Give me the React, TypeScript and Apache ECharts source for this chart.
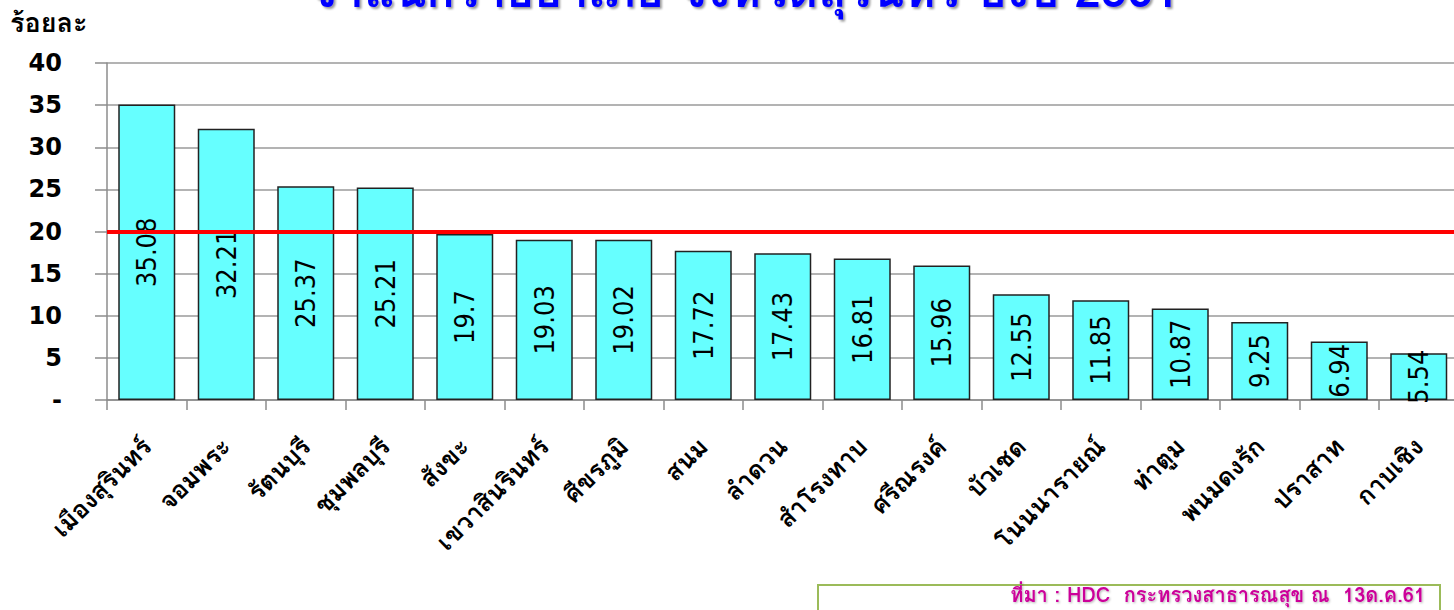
import React, { useEffect, useRef } from "react";
import * as echarts from "echarts";

const categories = [
  "เมืองสุรินทร์",
  "จอมพระ",
  "รัตนบุรี",
  "ชุมพลบุรี",
  "สังขะ",
  "เขวาสินรินทร์",
  "ศีขรภูมิ",
  "สนม",
  "ลำดวน",
  "สำโรงทาบ",
  "ศรีณรงค์",
  "บัวเชด",
  "โนนนารายณ์",
  "ท่าตูม",
  "พนมดงรัก",
  "ปราสาท",
  "กาบเชิง",
];
const values = [35.08, 32.21, 25.37, 25.21, 19.7, 19.03, 19.02, 17.72, 17.43, 16.81, 15.96, 12.55, 11.85, 10.87, 9.25, 6.94, 5.54];
const targetValue = 20;
const yAxisName = "ร้อยละ";
const titleText = "จำแนกรายอำเภอ จังหวัดสุรินทร์ ปีงบ 2561";
const sourceText = "ที่มา : HDC  กระทรวงสาธารณสุข ณ  13ด.ค.61";

const THAI_FONT = "Loma, Garuda, Waree, 'Noto Sans Thai', Tahoma, 'DejaVu Sans', sans-serif";

export default function App() {
  const ref = useRef<HTMLDivElement>(null);
  useEffect(() => {
    if (!ref.current) return;
    const chart = echarts.init(ref.current, undefined, { renderer: "svg" });
    chart.setOption({
      animation: false,
      backgroundColor: "#ffffff",
      grid: { left: 107, right: 11.5, top: 63, bottom: 210, containLabel: false },
      graphic: [
        {
          type: "text",
          left: 310,
          top: -33,
          style: {
            text: titleText,
            fill: "#0000ff",
            font: "bold 47px " + THAI_FONT,
            textShadowColor: "rgba(0,0,0,0.4)",
            textShadowBlur: 2,
            textShadowOffsetX: 2,
            textShadowOffsetY: 2,
          },
        },
        {
          type: "text",
          left: 10,
          top: 9,
          style: { text: yAxisName, fill: "#000", font: "bold 27px " + THAI_FONT },
        },
        {
          type: "rect",
          shape: { x: 818, y: 585, width: 622, height: 40 },
          style: { fill: "#fff", stroke: "#9bbb59", lineWidth: 2 },
        },
        {
          type: "text",
          right: 1470 - 1425,
          top: 585,
          style: {
            text: sourceText,
            fill: "#cc0099",
            font: "bold 20px " + THAI_FONT,
            textShadowColor: "rgba(0,0,0,0.3)",
            textShadowBlur: 2,
            textShadowOffsetX: 1,
            textShadowOffsetY: 1,
          },
        },
      ],
      xAxis: {
        type: "category",
        data: categories,
        axisLine: { show: true, lineStyle: { color: "#8c8c8c", width: 1.5 } },
        axisTick: { show: true, length: 10, lineStyle: { color: "#8c8c8c", width: 1.5 } },
        axisLabel: {
          rotate: 45,
          margin: 42,
          interval: 0,
          color: "#000",
          fontWeight: "bold",
          fontSize: 25,
          fontFamily: THAI_FONT,
        },
      },
      yAxis: {
        type: "value",
        min: 0,
        max: 40,
        interval: 5,
        axisLine: { show: true, lineStyle: { color: "#8c8c8c", width: 1.5 } },
        axisTick: { show: true, length: 12, lineStyle: { color: "#8c8c8c", width: 1.5 } },
        splitLine: { show: true, lineStyle: { color: "#9a9a9a", width: 1.5 } },
        axisLabel: {
          margin: 45,
          color: "#000",
          fontWeight: "bold",
          fontSize: 24,
          fontFamily: "Verdana, 'DejaVu Sans', sans-serif",
          formatter: (v: number) => (v === 0 ? "-" : String(v)),
        },
      },
      series: [
        {
          type: "bar",
          data: values,
          barWidth: 57,
          itemStyle: { color: "#66ffff", borderColor: "#222", borderWidth: 1.5 },
          label: {
            show: true,
            position: "inside",
            rotate: 90,
            color: "#000",
            fontSize: 27,
            fontFamily: "'DejaVu Sans Condensed', 'DejaVu Sans', sans-serif",
            formatter: (p: any) => String(p.value),
          },
          markLine: {
            silent: true,
            symbol: "none",
            label: { show: false },
            lineStyle: { color: "#ff0000", width: 4, type: "solid" },
            data: [{ yAxis: targetValue }],
          },
        },
      ],
    });
    return () => chart.dispose();
  }, []);
  return (
    <div
      ref={ref}
      style={{ position: "fixed", left: 0, top: 0, width: 1470, height: 610, background: "#fff" }}
    />
  );
}
